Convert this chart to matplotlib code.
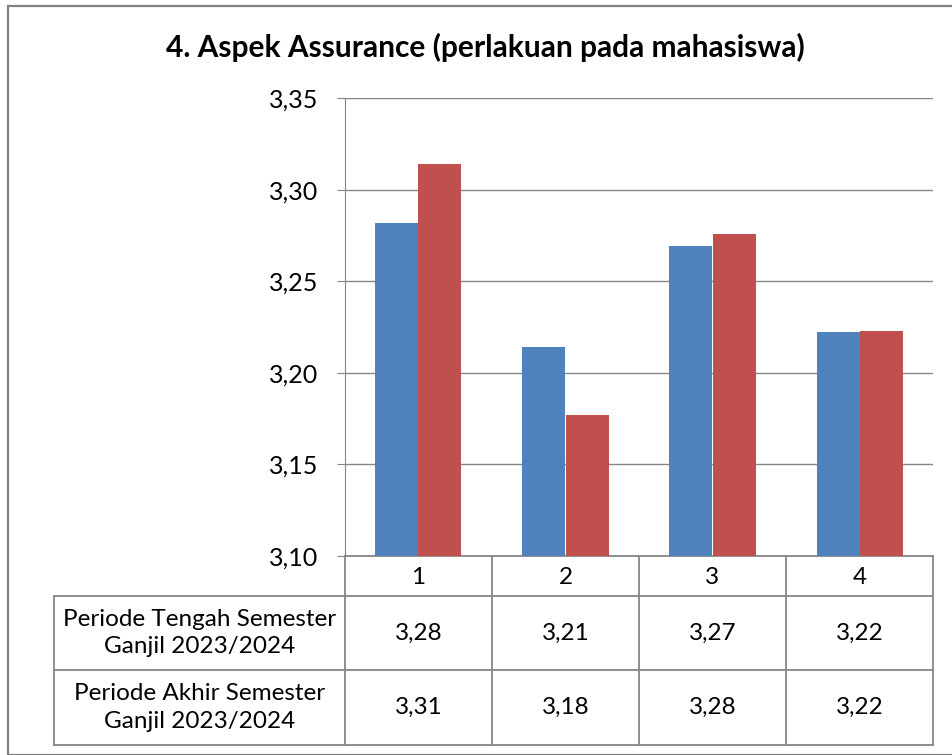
import numpy as np
import matplotlib
matplotlib.use("Agg")
from matplotlib import pyplot as plt
from matplotlib.transforms import blended_transform_factory
from matplotlib.patches import Rectangle

# data
categories = ["1", "2", "3", "4"]
series_names = ["Periode Tengah Semester\nGanjil 2023/2024",
                "Periode Akhir Semester\nGanjil 2023/2024"]
tengah = [3.282, 3.214, 3.269, 3.222]
akhir = [3.314, 3.177, 3.276, 3.223]
yticks = [3.10, 3.15, 3.20, 3.25, 3.30, 3.35]

colors = ["#4F81BD", "#C0504D"]
grid_color = "#868686"
fs = 17.5

plt.rcParams['font.family'] = ['Lato', 'DejaVu Sans']

fig = plt.figure(figsize=(9.53, 7.55), dpi=100)
W, H = 953, 755

# outer chart border
fig.patches.append(Rectangle((8.5 / W, 0), 1, 1 - 5.5 / H, transform=fig.transFigure,
                             fill=False, edgecolor="#808080", linewidth=1.6))

ax = fig.add_axes([345 / W, 1 - 556 / H, (933 - 345) / W, (556 - 98) / H])

x = np.arange(len(categories))
bw = 43 / 147
ax.bar(x - bw / 2, tengah, bw, color=colors[0], zorder=3)
ax.bar(x + bw / 2, akhir, bw, color=colors[1], zorder=3)

ax.set_xlim(-0.5, len(categories) - 0.5)
ax.set_ylim(yticks[0], yticks[-1])
ax.set_yticks(yticks)
ax.set_yticklabels([f"{v:.2f}".replace(".", ",") for v in yticks], fontsize=fs + 0.5)
ax.set_xticks([])
ax.grid(axis="y", color=grid_color, linewidth=1, zorder=0)
for s in ["top", "right", "bottom"]:
    ax.spines[s].set_visible(False)
ax.spines["left"].set_color(grid_color)
ax.tick_params(axis="y", length=6, color=grid_color, pad=13)

fig.text(485 / W, 1 - 47 / H, "4. Aspek Assurance (perlakuan pada mahasiswa)",
         fontsize=21.5, fontweight="bold", ha="center", va="center")

# data table below the plot
tr = blended_transform_factory(ax.transData, fig.transFigure)
def fy(py):
    return 1 - py / H

left_x = -0.5 - (345 - 54) / 147
right_x = len(categories) - 0.5
rows_y = [556, 596, 670, 745]
lkw = dict(color=grid_color, linewidth=1.3, transform=tr, clip_on=False)

# horizontal lines
ax.plot([-0.5, right_x], [fy(556)] * 2, **lkw)
for py in rows_y[1:]:
    ax.plot([left_x, right_x], [fy(py)] * 2, **lkw)
# vertical lines
ax.plot([left_x, left_x], [fy(596), fy(745)], **lkw)
for i in range(len(categories) + 1):
    xv = i - 0.5
    ax.plot([xv, xv], [fy(556), fy(745)], **lkw)

for i, c in enumerate(categories):
    ax.text(i, fy(577), c, ha="center", va="center", fontsize=fs, transform=tr)

for r, (name, vals) in enumerate(zip(series_names, [tengah, akhir])):
    ymid = fy((rows_y[r + 1] + rows_y[r + 2]) / 2)
    ax.text((left_x - 0.5) / 2, ymid, name, ha="center", va="center",
            fontsize=fs, transform=tr, linespacing=1.4)
    for i, v in enumerate(vals):
        ax.text(i, ymid, f"{v:.2f}".replace(".", ","), ha="center", va="center",
                fontsize=fs, transform=tr)

fig.savefig("out.png", dpi=100)
